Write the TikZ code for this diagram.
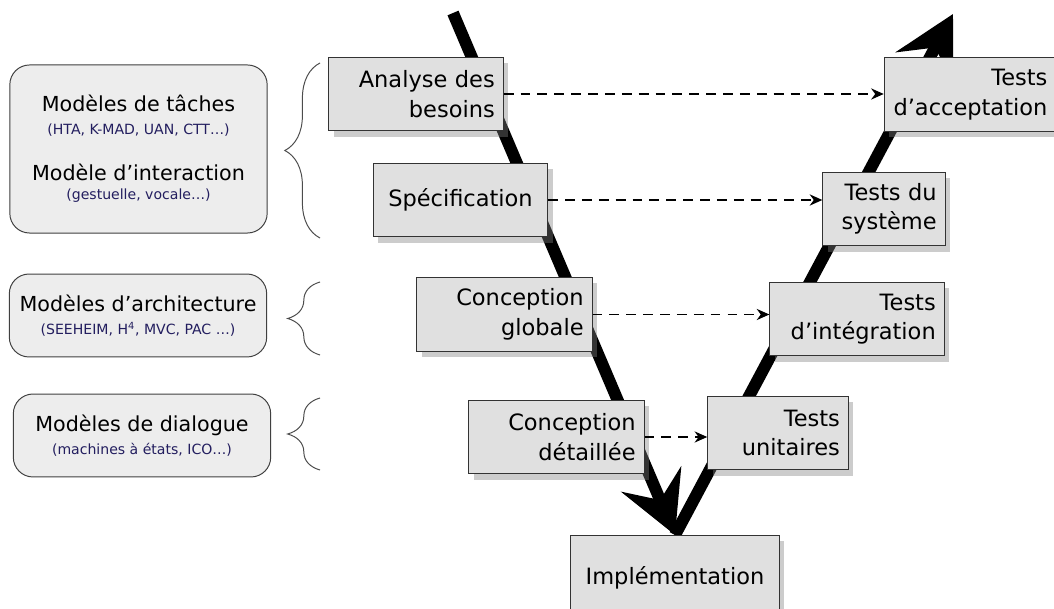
\documentclass[tikz,border=0pt]{standalone}
\usepackage{fontspec}
\setmainfont{DejaVu Sans}
\usetikzlibrary{arrows.meta,shadows,decorations.pathreplacing}
\definecolor{detail}{RGB}{35,30,95}
\newcommand{\detailtxt}[1]{{\color{detail}\fontsize{10}{12}\selectfont #1}}

\begin{document}
\begin{tikzpicture}[x=0.025cm, y=-0.025cm,
		etape/.style={draw=black!80, line width=0.7pt, fill=black!12, text=black, inner xsep=6pt,
			minimum height=52.6pt, align=right, font=\fontsize{16}{21}\selectfont,
			drop shadow={shadow xshift=3.5pt, shadow yshift=-4pt, opacity=0.4}},
		modele/.style={draw=black!75, line width=0.7pt, fill=black!7, rounded corners=14pt,
			minimum width=183pt, align=center, font=\fontsize{14.7}{16.4}\selectfont},
		branche/.style={line width=8.5pt, -{Stealth[length=43pt, width=46pt, inset=16pt]}},
		lien/.style={dash pattern=on 7pt off 5pt, line width=1pt, -{Stealth[length=9pt, width=8pt]}},
		accolade/.style={decorate, decoration={brace, amplitude=#1}, draw=black!70, line width=0.7pt}
		]
	\useasboundingbox (0,0) rectangle (1054,609);

	% le V
	\coordinate (haut) at (453,13);
	\coordinate (bas) at (675,535);
	\coordinate (fin) at (953,14);
	\draw[branche] (haut) -- (bas);
	\draw[branche] (bas) -- (fin);

	\node[etape, text width=112pt] (analyse) at (416,94) {Analyse des\\besoins};
	\node[etape, text width=112pt, align=center] (spec) at (460.5,200) {Spécification};
	\node[etape, text width=112.5pt] (cglob) at (504.5,314.5) {Conception\\globale};
	\node[etape, text width=112.5pt] (cdet) at (556.5,437) {Conception\\détaillée};
	\node[etape, text width=136pt, align=center, minimum height=60pt] (impl) at (675,578) {Implémentation};
	\node[etape, text width=110pt] (tacc) at (970,94.5) {Tests\\d’acceptation};
	\node[etape, text width=75pt] (tsys) at (884,209) {Tests du\\système};
	\node[etape, text width=112pt] (tint) at (857,319) {Tests\\d’intégration};
	\node[etape, text width=88pt] (tu) at (778,433) {Tests\\unitaires};

	\draw[lien] (analyse.east) -- (analyse.east -| tacc.west);
	\draw[lien] (spec.east) -- (spec.east -| tsys.west);
	\draw[lien] (cglob.east) -- (cglob.east -| tint.west);
	\draw[lien] (cdet.east) -- (cdet.east -| tu.west);

	% modeles
	\node[modele, minimum height=119.5pt] (taches) at (138.5,149)
		{Modèles de tâches\\\detailtxt{(HTA, K-MAD, UAN, CTT…)}\\[16.4pt]Modèle d’interaction\\[-2.8pt]\detailtxt{(gestuelle, vocale…)}};
	\node[modele, minimum height=59pt] (archi) at (138,315.5)
		{Modèles d’architecture\\\detailtxt{(SEEHEIM, H\textsuperscript{4}, MVC, PAC …)}};
	\node[modele, minimum height=59pt] (dialogue) at (142,435.5)
		{Modèles de dialogue\\\detailtxt{(machines à états, ICO…)}};

	\draw[accolade=25pt] (320,238) -- (320,63);
	\draw[accolade=23pt] (320,355) -- (320,282);
	\draw[accolade=23pt] (320,470) -- (320,398);
\end{tikzpicture}
\end{document}
